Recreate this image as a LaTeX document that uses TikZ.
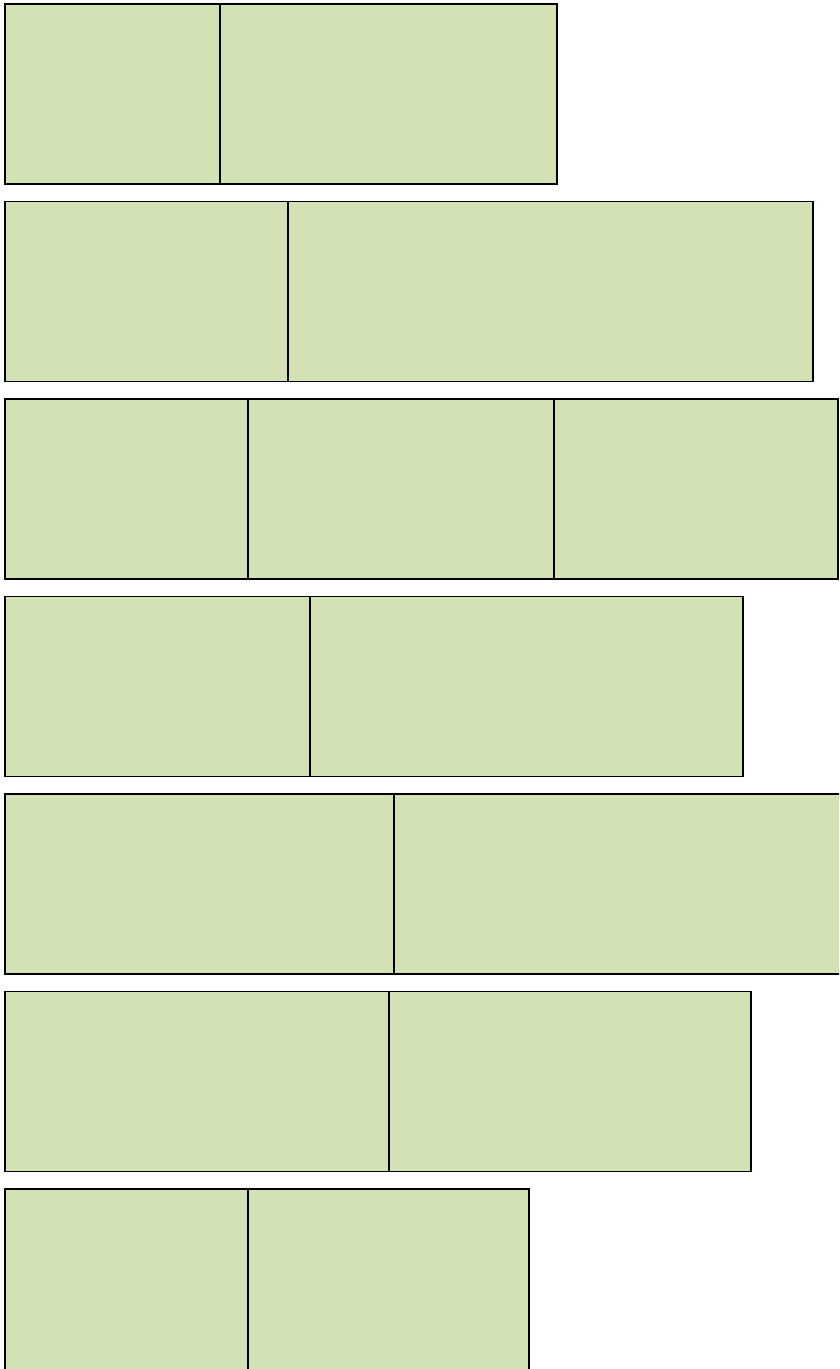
\documentclass[tikz,border=0pt]{standalone}
\usepackage{tikz}
\definecolor{cellgreen}{HTML}{D3E2B4}
\tikzset{
    cell/.style={
        draw=black, fill=cellgreen,
        line width=1.6pt
    }
}

\begin{document}
\begin{tikzpicture}[x=1pt, y=-1pt]
    \useasboundingbox (0,0) rectangle (839,1369);
    \clip (0,0) rectangle (839,1369);
    % Row 1
    \draw[cell] (5,4)   rectangle (220,184);
    \draw[cell] (220,4) rectangle (557,184);
    % Row 2
    \draw[cell] (5,201.5)   rectangle (288,381.5);
    \draw[cell] (288,201.5) rectangle (813,381.5);
    % Row 3
    \draw[cell] (5,399)   rectangle (248,579);
    \draw[cell] (248,399) rectangle (554,579);
    \draw[cell] (554,399) rectangle (838,579);
    % Row 4
    \draw[cell] (5,596.5)   rectangle (310,776.5);
    \draw[cell] (310,596.5) rectangle (743,776.5);
    % Row 5
    \draw[cell] (5,794)   rectangle (394,974);
    \draw[cell] (394,794) rectangle (845,974);
    % Row 6
    \draw[cell] (5,991.5)   rectangle (389,1171.5);
    \draw[cell] (389,991.5) rectangle (751,1171.5);
    % Row 7
    \draw[cell] (5,1189)   rectangle (248,1375);
    \draw[cell] (248,1189) rectangle (529,1375);
\end{tikzpicture}
\end{document}
